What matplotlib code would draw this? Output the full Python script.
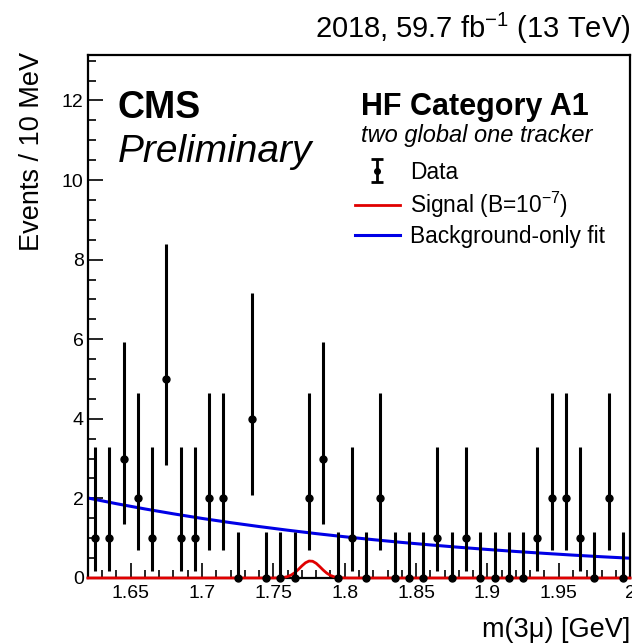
import numpy as np
import matplotlib
matplotlib.use("Agg")
import matplotlib.pyplot as plt
from matplotlib.ticker import MultipleLocator, FormatStrFormatter

plt.rcParams['font.family'] = ['Liberation Sans', 'DejaVu Sans']
plt.rcParams['mathtext.fontset'] = 'custom'
plt.rcParams['mathtext.rm'] = 'Liberation Sans'
plt.rcParams['mathtext.it'] = 'Liberation Sans:italic'
plt.rcParams['mathtext.bf'] = 'Liberation Sans:bold'

# data: 10 MeV bins from 1.62 to 2.00 GeV
bin_centers = np.arange(38) * 0.01 + 1.625
counts = [1, 1, 3, 2, 1, 5, 1, 1, 2, 2,
          0, 4, 0, 0, 0, 2, 3, 0, 1, 0,
          2, 0, 0, 0, 1, 0, 1, 0, 0, 0,
          0, 1, 2, 2, 1, 0, 2, 0]
# poisson intervals (low, high) per count
poisson_lo = {0: 0.0, 1: 0.173, 2: 0.708, 3: 1.367, 4: 2.086, 5: 2.840}
poisson_hi = {0: 1.148, 1: 3.300, 2: 4.638, 3: 5.918, 4: 7.163, 5: 8.382}

# background-only fit curve
bkg_x = [1.62, 1.64, 1.66, 1.68, 1.70, 1.72, 1.74, 1.76, 1.78, 1.80,
         1.82, 1.84, 1.86, 1.88, 1.90, 1.92, 1.94, 1.96, 1.98, 2.00]
bkg_y = [2.01, 1.867, 1.735, 1.612, 1.497, 1.391, 1.293, 1.201, 1.115, 1.036,
         0.963, 0.894, 0.831, 0.772, 0.717, 0.666, 0.619, 0.575, 0.534, 0.497]

# signal curve (B = 1e-7)
sig_x = [1.62, 1.75, 1.7525, 1.755, 1.7575, 1.76, 1.7625, 1.765, 1.7675, 1.77,
         1.7725, 1.775, 1.7775, 1.78, 1.7825, 1.785, 1.7875, 1.79, 1.7925,
         1.795, 1.7975, 1.80, 1.8025, 2.00]
sig_y = [0.0, 0.0006, 0.002, 0.006, 0.016, 0.036, 0.074, 0.134, 0.214, 0.304,
         0.382, 0.426, 0.421, 0.369, 0.286, 0.197, 0.120, 0.065, 0.031,
         0.013, 0.005, 0.0017, 0.0, 0.0]

counts = np.array(counts)
lo = counts - np.array([poisson_lo[c] for c in counts])
hi = np.array([poisson_hi[c] for c in counts]) - counts

fig = plt.figure(figsize=(6.32, 6.44), dpi=100)
ax = fig.add_axes([0.139, 0.1025, 0.858, 0.812])

ax.plot(sig_x, sig_y, color='#e00000', lw=2.0, zorder=3, clip_on=False)
ax.plot(bkg_x, bkg_y, color='#0000e6', lw=2.2, zorder=2)
data = ax.errorbar(bin_centers, counts, yerr=[lo, hi], fmt='o', color='black',
                   ms=5, elinewidth=2.2, capsize=0, zorder=4, clip_on=False)
for part in data.lines[2]:
    part.set_clip_on(False)

ax.set_xlim(1.62, 2.0)
ax.set_ylim(0, 13.14)
ax.xaxis.set_major_locator(MultipleLocator(0.05))
ax.xaxis.set_minor_locator(MultipleLocator(0.01))
ax.xaxis.set_major_formatter(FormatStrFormatter('%g'))
ax.yaxis.set_major_locator(MultipleLocator(2))
ax.yaxis.set_minor_locator(MultipleLocator(0.5))
ax.tick_params(which='both', direction='in', top=False, right=False, labelsize=14, width=1.2)
ax.tick_params(which='major', length=11)
ax.tick_params(which='minor', length=5.5)
ax.tick_params(axis='x', pad=5)
ax.tick_params(axis='y', pad=3)
for s in ax.spines.values():
    s.set_linewidth(1.6)

# legend with proxy errorbar showing caps
proxy = ax.errorbar([np.nan], [np.nan], yerr=[[1], [1]], fmt='o', color='black', ms=4,
                    elinewidth=2.0, capsize=4, capthick=2.0)
h_sig, = ax.plot([], [], color='#e00000', lw=2.0)
h_bkg, = ax.plot([], [], color='#0000e6', lw=2.2)
ax.legend([proxy, h_sig, h_bkg], ['Data', 'Signal (B=10$^{-7}$)', 'Background-only fit'],
          loc='upper left', bbox_to_anchor=(0.4926, 0.798), frameon=False,
          fontsize=16.4, handlelength=1.97, handletextpad=0.44, labelspacing=0.25,
          borderpad=0, borderaxespad=0)

ax.text(0.055, 0.879, 'CMS', transform=ax.transAxes, fontsize=27,
        fontweight='bold', va='baseline')
ax.text(0.055, 0.795, 'Preliminary', transform=ax.transAxes, fontsize=28,
        style='italic', va='baseline')
ax.text(0.504, 0.885, 'HF Category A1', transform=ax.transAxes, fontsize=22,
        fontweight='bold', va='baseline')
ax.text(0.504, 0.834, 'two global one tracker', transform=ax.transAxes, fontsize=17,
        style='italic', va='baseline')

fig.text(0.997, 0.941, '2018, 59.7 fb$^{-1}$ (13 TeV)', ha='right', va='baseline', fontsize=21)
fig.text(0.997, 0.011, 'm(3μ) [GeV]', ha='right', va='baseline', fontsize=19.5)
fig.text(0.051, 0.919, 'Events / 10 MeV', rotation=90, ha='center', va='top', fontsize=19.5)

fig.savefig('out.png', dpi=100)
